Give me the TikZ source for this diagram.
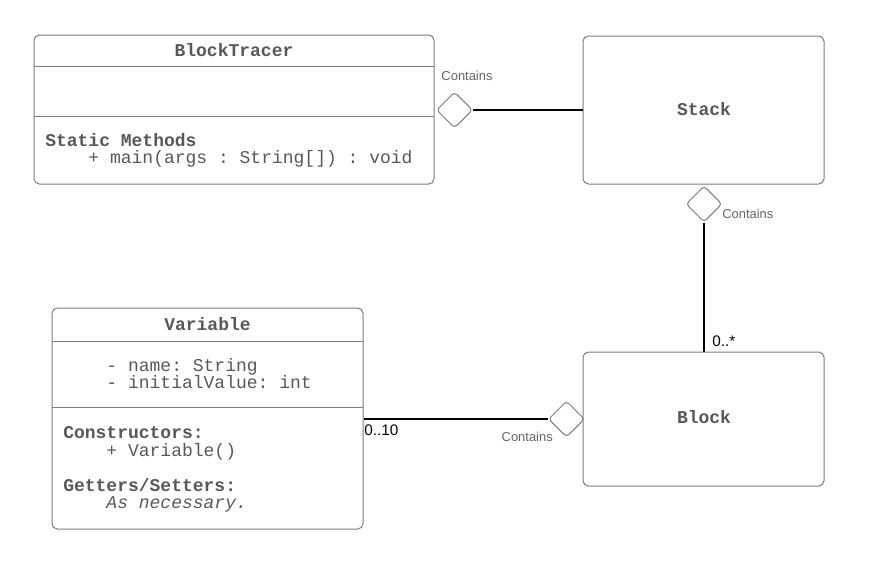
\documentclass[tikz,border=0pt]{standalone}
\usepackage{fontspec}
\setmainfont{Liberation Sans}
\setmonofont{Liberation Mono}
\usetikzlibrary{shapes.geometric}
\definecolor{txtgray}{RGB}{88,88,88}
\definecolor{bordergray}{RGB}{125,125,125}
\definecolor{lblgray}{RGB}{100,100,100}
\begin{document}
\begin{tikzpicture}[x=0.75pt,y=-0.75pt,
  classbox/.style={draw=bordergray, line width=0.75pt, rounded corners=4pt, rectangle, inner sep=0pt},
  divider/.style={draw=bordergray, line width=0.75pt},
  mtxt/.style={text=txtgray, inner sep=0pt, text height=8.8pt, text depth=0pt},
  mono/.style={mtxt, font=\ttfamily\fontsize{13.5}{13}\selectfont},
  monob/.style={mtxt, font=\ttfamily\bfseries\fontsize{13.5}{13}\selectfont},
  monoi/.style={mtxt, font=\ttfamily\itshape\fontsize{13.5}{13}\selectfont},
  agg/.style={diamond, draw=bordergray, line width=0.75pt, fill=white, minimum width=27pt, minimum height=27pt, inner sep=0pt, rounded corners=2.5pt},
  lbl/.style={font=\fontsize{9.7}{10}\selectfont, text=lblgray, inner sep=0pt},
  mult/.style={font=\fontsize{11.5}{12}\selectfont, text=black, inner sep=0pt},
  conn/.style={draw=black, line width=1.6pt},
  thinconn/.style={draw=black, line width=0.8pt}]
\useasboundingbox (0,0) rectangle (887,565);

% BlockTracer
\node[classbox, minimum width=300pt, minimum height=111.75pt] (bt) at (234,109.5) {};
\draw[divider] (34,66) -- (434,66);
\draw[divider] (34,116) -- (434,116);
\node[monob] (btname) at (234,51) {BlockTracer};
\node[monob, anchor=west] (btsm) at (45,141) {Static Methods};
\node[mono, anchor=west] (btmain) at (45,158) {\ \ \ \ + main(args : String[]) : void};

% Stack
\node[classbox, minimum width=180.75pt, minimum height=111pt] (stack) at (703.5,110) {};
\node[monob] (stackname) at (704,110) {Stack};

% Variable
\node[classbox, minimum width=233.25pt, minimum height=165.75pt] (var) at (207.5,418.5) {};
\draw[divider] (52,341) -- (363,341);
\draw[divider] (52,407) -- (363,407);
\node[monob] (varname) at (207.5,325) {Variable};
\node[mono, anchor=west] (va1) at (63,366) {\ \ \ \ - name: String};
\node[mono, anchor=west] (va2) at (63,383) {\ \ \ \ - initialValue: int};
\node[monob, anchor=west] (vc) at (63,433) {Constructors:};
\node[mono, anchor=west] (vc1) at (63,451) {\ \ \ \ + Variable()};
\node[monob, anchor=west] (vg) at (63,486) {Getters/Setters:};
\node[monoi, anchor=west] (vg1) at (63,503) {\ \ \ \ As necessary.};

% Block
\node[classbox, minimum width=180.75pt, minimum height=100.5pt] (block) at (703.5,419) {};
\node[monob] (blockname) at (704,418) {Block};

% Aggregation BlockTracer - Stack
\node[agg] (d1) at (454.5,110) {};
\coordinate (m1) at (508,110);
\draw[thinconn] (d1.east) -- (m1);
\draw[conn] (m1) -- (stack.west);
\node[lbl] (l1) at (467,76) {Contains};

% Aggregation Stack - Block
\node[agg] (d2) at (704,204) {};
\draw[conn] (d2.south) -- (block.north -| d2.south);
\node[lbl, anchor=west] (l2) at (722,214) {Contains};
\node[mult, anchor=west] (m2) at (712,341) {0..*};

% Aggregation Variable - Block
\node[agg] (d3) at (566.5,419) {};
\draw[conn] (var.east |- d3.west) -- (d3.west);
\node[lbl, anchor=east] (l3) at (553,437) {Contains};
\node[mult, anchor=west] (m3) at (364,430) {0..10};
\end{tikzpicture}
\end{document}
